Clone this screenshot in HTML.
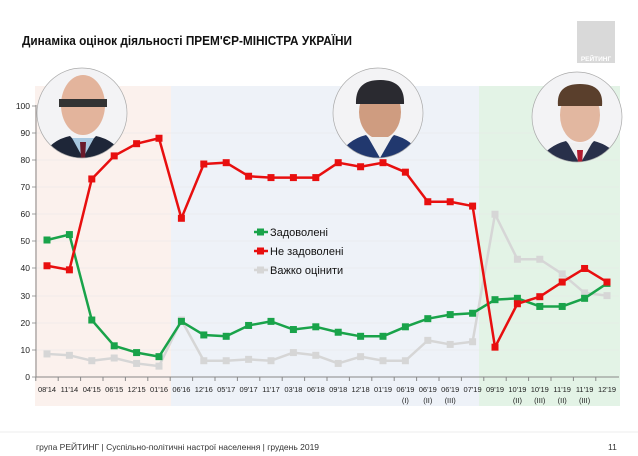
<!DOCTYPE html>
<html><head><meta charset="utf-8"><style>
body{margin:0;background:#fff;}
svg{display:block;font-family:"Liberation Sans",sans-serif;}
</style></head><body>
<svg width="638" height="456" viewBox="0 0 638 456" xmlns="http://www.w3.org/2000/svg">
<defs>
<clipPath id="c1"><circle cx="82" cy="113" r="45"/></clipPath>
<clipPath id="c2"><circle cx="378" cy="113" r="45"/></clipPath>
<clipPath id="c3"><circle cx="577" cy="117" r="45"/></clipPath>
</defs>
<rect width="638" height="456" fill="#fff"/>
<rect x="35" y="86" width="136" height="320" fill="#fbf1ed"/>
<rect x="171" y="86" width="308" height="320" fill="#eef2f8"/>
<rect x="479" y="86" width="141" height="320" fill="#e3f3e6"/>
<g stroke="#e6e6e6" stroke-width="0.5">
<line x1="36" y1="350" x2="619" y2="350"/><line x1="36" y1="323" x2="619" y2="323"/><line x1="36" y1="296" x2="619" y2="296"/><line x1="36" y1="268" x2="619" y2="268"/><line x1="36" y1="241" x2="619" y2="241"/><line x1="36" y1="214" x2="619" y2="214"/><line x1="36" y1="187" x2="619" y2="187"/><line x1="36" y1="160" x2="619" y2="160"/><line x1="36" y1="133" x2="619" y2="133"/>
</g>
<text x="22" y="45" font-size="12.5" font-weight="bold" fill="#111" textLength="330" lengthAdjust="spacingAndGlyphs">Динаміка оцінок діяльності ПРЕМ'ЄР-МІНІСТРА УКРАЇНИ</text>
<rect x="577" y="21" width="38" height="42" fill="#d9d9d9"/>
<text x="596" y="61" font-size="6.5" fill="#fff" text-anchor="middle" font-weight="bold">РЕЙТИНГ</text>
<!-- portraits -->
<g clip-path="url(#c1)">
<circle cx="82" cy="113" r="45" fill="#f3f3f5"/>
<ellipse cx="83" cy="105" rx="22" ry="30" fill="#e3b49c"/>
<rect x="59" y="99" width="48" height="8" fill="#333"/>
<path d="M40 160 Q50 140 70 136 L83 150 L96 136 Q116 140 126 160Z" fill="#1e2638"/>
<path d="M72 138 L83 158 L94 138Z" fill="#a8c8e0"/>
<path d="M80 142 L86 142 L85 160 L81 160Z" fill="#6a1a2a"/>
</g>
<circle cx="82" cy="113" r="45" fill="none" stroke="#aaa" stroke-width="0.7"/>
<g clip-path="url(#c2)">
<circle cx="378" cy="113" r="45" fill="#f3f3f5"/>
<ellipse cx="380" cy="112" rx="21" ry="27" fill="#cf9c80"/>
<path d="M380 80 q-25 0 -24 24 l48 0 q1 -24 -24 -24z" fill="#2a2a30"/>
<path d="M336 160 Q346 140 366 135 L380 150 L394 135 Q414 140 424 160Z" fill="#21386e"/>
<path d="M368 137 L380 158 L392 137Z" fill="#f0f0f0"/>
</g>
<circle cx="378" cy="113" r="45" fill="none" stroke="#aaa" stroke-width="0.7"/>
<g clip-path="url(#c3)">
<circle cx="577" cy="117" r="45" fill="#f3f3f5"/>
<ellipse cx="580" cy="115" rx="20" ry="27" fill="#e2b7a0"/>
<path d="M580 84 q-24 0 -22 22 l44 0 q2 -22 -22 -22z" fill="#5a3f2c"/>
<path d="M536 165 Q546 146 566 141 L580 156 L594 141 Q614 146 624 165Z" fill="#28304a"/>
<path d="M568 143 L580 164 L592 143Z" fill="#f0f0f0"/>
<path d="M577 150 L583 150 L582 164 L578 164Z" fill="#b01c30"/>
</g>
<circle cx="577" cy="117" r="45" fill="none" stroke="#aaa" stroke-width="0.7"/>
<!-- axes -->
<g stroke="#888" stroke-width="1">
<line x1="36" y1="105" x2="36" y2="377"/><line x1="36" y1="377" x2="619" y2="377"/>
</g>
<g font-size="8.5" fill="#222" text-anchor="end">
<text x="30" y="380">0</text><text x="30" y="353">10</text><text x="30" y="326">20</text><text x="30" y="299">30</text><text x="30" y="271">40</text><text x="30" y="244">50</text><text x="30" y="217">60</text><text x="30" y="190">70</text><text x="30" y="163">80</text><text x="30" y="136">90</text><text x="30" y="109">100</text>
</g>
<g stroke="#888" stroke-width="0.8">
<line x1="32" x2="36" y1="377" y2="377"/><line x1="32" x2="36" y1="350" y2="350"/><line x1="32" x2="36" y1="323" y2="323"/><line x1="32" x2="36" y1="296" y2="296"/><line x1="32" x2="36" y1="268" y2="268"/><line x1="32" x2="36" y1="241" y2="241"/><line x1="32" x2="36" y1="214" y2="214"/><line x1="32" x2="36" y1="187" y2="187"/><line x1="32" x2="36" y1="160" y2="160"/><line x1="32" x2="36" y1="133" y2="133"/><line x1="32" x2="36" y1="106" y2="106"/>
</g>
<g id="ticks" stroke="#888"></g>
<g id="xl" font-size="7.5" fill="#222" text-anchor="middle"></g>
<g id="series"></g>
<!-- legend -->
<g font-size="11" fill="#111">
<line x1="254" y1="232" x2="268" y2="232" stroke="#19a34a" stroke-width="2.5"/><rect x="257" y="228.5" width="7" height="7" fill="#19a34a"/><text x="270" y="236">Задоволені</text>
<line x1="254" y1="251" x2="268" y2="251" stroke="#e80f0f" stroke-width="2.5"/><rect x="257" y="247.5" width="7" height="7" fill="#e80f0f"/><text x="270" y="255">Не задоволені</text>
<line x1="254" y1="270" x2="268" y2="270" stroke="#d6d6d6" stroke-width="2.5"/><rect x="257" y="266.5" width="7" height="7" fill="#d6d6d6"/><text x="270" y="274">Важко оцінити</text>
</g>
<line x1="0" y1="432" x2="638" y2="432" stroke="#eee"/>
<text x="36" y="450" font-size="8.5" fill="#333">група РЕЙТИНГ | Суспільно-політичні настрої населення  | грудень 2019</text>
<text x="608" y="450" font-size="8.5" fill="#333">11</text>
<script>
var labs=["08'14","11'14","04'15","06'15","12'15","01'16","06'16","12'16","05'17","09'17","11'17","03'18","06'18","09'18","12'18","01'19","06'19","06'19","06'19","07'19","09'19","10'19","10'19","11'19","11'19","12'19"];
var sub={16:"(I)",17:"(II)",18:"(III)",21:"(II)",22:"(III)",23:"(II)",24:"(III)"};
var g=[50.5,52.5,21,11.5,9,7.5,20.5,15.5,15,19,20.5,17.5,18.5,16.5,15,15,18.5,21.5,23,23.5,28.5,29,26,26,29,34.5];
var r=[41,39.5,73,81.5,86,88,58.5,78.5,79,74,73.5,73.5,73.5,79,77.5,79,75.5,64.6,64.6,63,11,27,29.6,35,40,35];
var y=[8.5,8,6,7,5,4,21,6,6,6.5,6,9,8,5,7.5,6,6,13.5,12,13,60,43.4,43.4,38,31,30];
function X(i){return 47+i*22.4}function Y(v){return 377-v*2.713}
var NS="http://www.w3.org/2000/svg";
function el(p,t,a,txt){var e=document.createElementNS(NS,t);for(var k in a)e.setAttribute(k,a[k]);if(txt)e.textContent=txt;document.getElementById(p).appendChild(e);}
for(var i=0;i<26;i++){el("ticks","line",{x1:X(i)-11.2,x2:X(i)-11.2,y1:377,y2:381});
el("xl","text",{x:X(i),y:392},labs[i]);if(sub[i])el("xl","text",{x:X(i),y:403},sub[i]);}
[[y,"#d6d6d6"],[g,"#19a34a"],[r,"#e80f0f"]].forEach(function(s){var p=s[0].map(function(v,i){return X(i)+","+Y(v)}).join(" ");
el("series","polyline",{points:p,fill:"none",stroke:s[1],"stroke-width":2.5,"stroke-linejoin":"round"});
s[0].forEach(function(v,i){el("series","rect",{x:X(i)-3.5,y:Y(v)-3.5,width:7,height:7,fill:s[1]});});});
</script>
</svg>
</body></html>
